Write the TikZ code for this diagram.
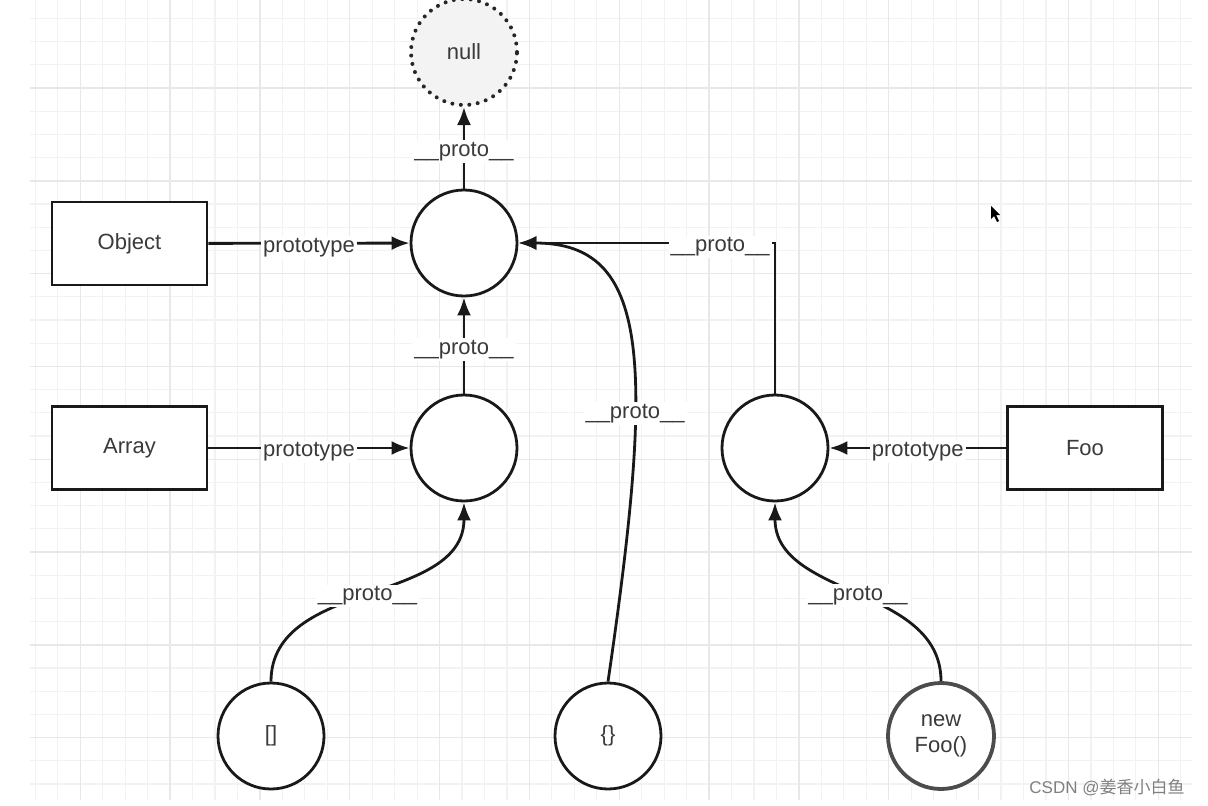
\documentclass[tikz,border=0pt]{standalone}
\usepackage{fontspec}
\setmainfont{Liberation Sans}
\newfontfamily\cjkfont{Noto Sans CJK SC}
\usetikzlibrary{arrows.meta}
\definecolor{gridminor}{HTML}{F2F2F2}
\definecolor{gridmajor}{HTML}{E8E8E8}
\definecolor{labeltext}{HTML}{3A3A3A}
\definecolor{nullfill}{HTML}{F3F3F3}
\tikzset{
  protocircle/.style={circle, draw=black!90, line width=2.8pt, minimum size=106pt, inner sep=0pt, fill=white, text=labeltext, font=\fontsize{22}{26}\selectfont},
  ctorbox/.style={rectangle, draw=black!90, line width=2.8pt, minimum width=155pt, minimum height=83pt, fill=white, text=labeltext, font=\fontsize{22}{26}\selectfont},
  link/.style={draw=black!90, line width=2.8pt, -{Latex[length=18pt,width=14pt]}},
  linklabel/.style={fill=white, inner sep=2pt, yshift=-4pt, text=labeltext, font=\fontsize{22}{26}\selectfont}
}
\begin{document}
\begin{tikzpicture}[x=1pt,y=-1pt]
\useasboundingbox (0,0) rectangle (1208,806);
% background grid
\foreach \i in {0,...,51} {\draw[gridminor, line width=1.2pt] ({35.3+22.46*\i},0) -- ({35.3+22.46*\i},800);}
\foreach \i in {0,...,33} {\draw[gridminor, line width=1.2pt] (30,{18.4+23.2*\i}) -- (1192,{18.4+23.2*\i});}
\foreach \i in {0,...,12} {\draw[gridmajor, line width=1.4pt] ({80.2+89.84*\i},0) -- ({80.2+89.84*\i},800);}
\foreach \i in {0,...,7} {\draw[gridmajor, line width=1.4pt] (30,{88+92.8*\i}) -- (1192,{88+92.8*\i});}

% prototype objects
\node[protocircle, draw=black!85, fill=nullfill, line width=4pt, dash pattern=on 0pt off 8.5pt, line cap=round] (nullobj) at (464,52) {null};
\node[protocircle] (objproto) at (464,243) {};
\node[protocircle] (arrproto) at (464,448) {};
\node[protocircle] (fooproto) at (775,448) {};

% constructors
\node[ctorbox] (objctor) at (129.5,243.5) {Object};
\node[ctorbox] (arrctor) at (129.5,448) {Array};
\node[ctorbox] (fooctor) at (1085,448) {Foo};

% instances
\node[protocircle] (arrinst) at (271,736) {[]};
\node[protocircle] (objinst) at (608,736) {\{\}};
\node[protocircle, draw=black!70, line width=3.8pt, align=center] (fooinst) at (941,736) {new\\Foo()};

% prototype links
\draw[link] (objctor) -- node[linklabel] {prototype} (objproto);
\draw[link] (arrctor) -- node[linklabel] {prototype} (arrproto);
\draw[link] (fooctor) -- node[linklabel] {prototype} (fooproto);

% __proto__ links
\draw[link] (objproto) -- node[linklabel] {\_\_proto\_\_} (nullobj);
\draw[link] (arrproto) -- node[linklabel] {\_\_proto\_\_} (objproto);
\draw[link] (fooproto.north) |- node[linklabel, pos=0.607] {\_\_proto\_\_} (objproto.east);
\draw[link] (arrinst.north) to[out=90, in=-90] node[linklabel] {\_\_proto\_\_} (arrproto.south);
\draw[link] (fooinst.north) to[out=90, in=-90] node[linklabel] {\_\_proto\_\_} (fooproto.south);
\draw[link] (objinst.north) .. controls (655,360) and (650,243) .. node[linklabel, pos=0.36] {\_\_proto\_\_} (objproto.east);

% mouse pointer and watermark
\fill[black] (991,206) -- (991,219) -- (994,216) -- (997,222) -- (999,221) -- (996,215) -- (1000,215) -- cycle;
\node[text=black!50, font=\fontsize{17}{20}\selectfont, inner sep=1pt] (mark) at (1107,787) {CSDN @{\cjkfont 姜香小白鱼}};
\end{tikzpicture}
\end{document}
